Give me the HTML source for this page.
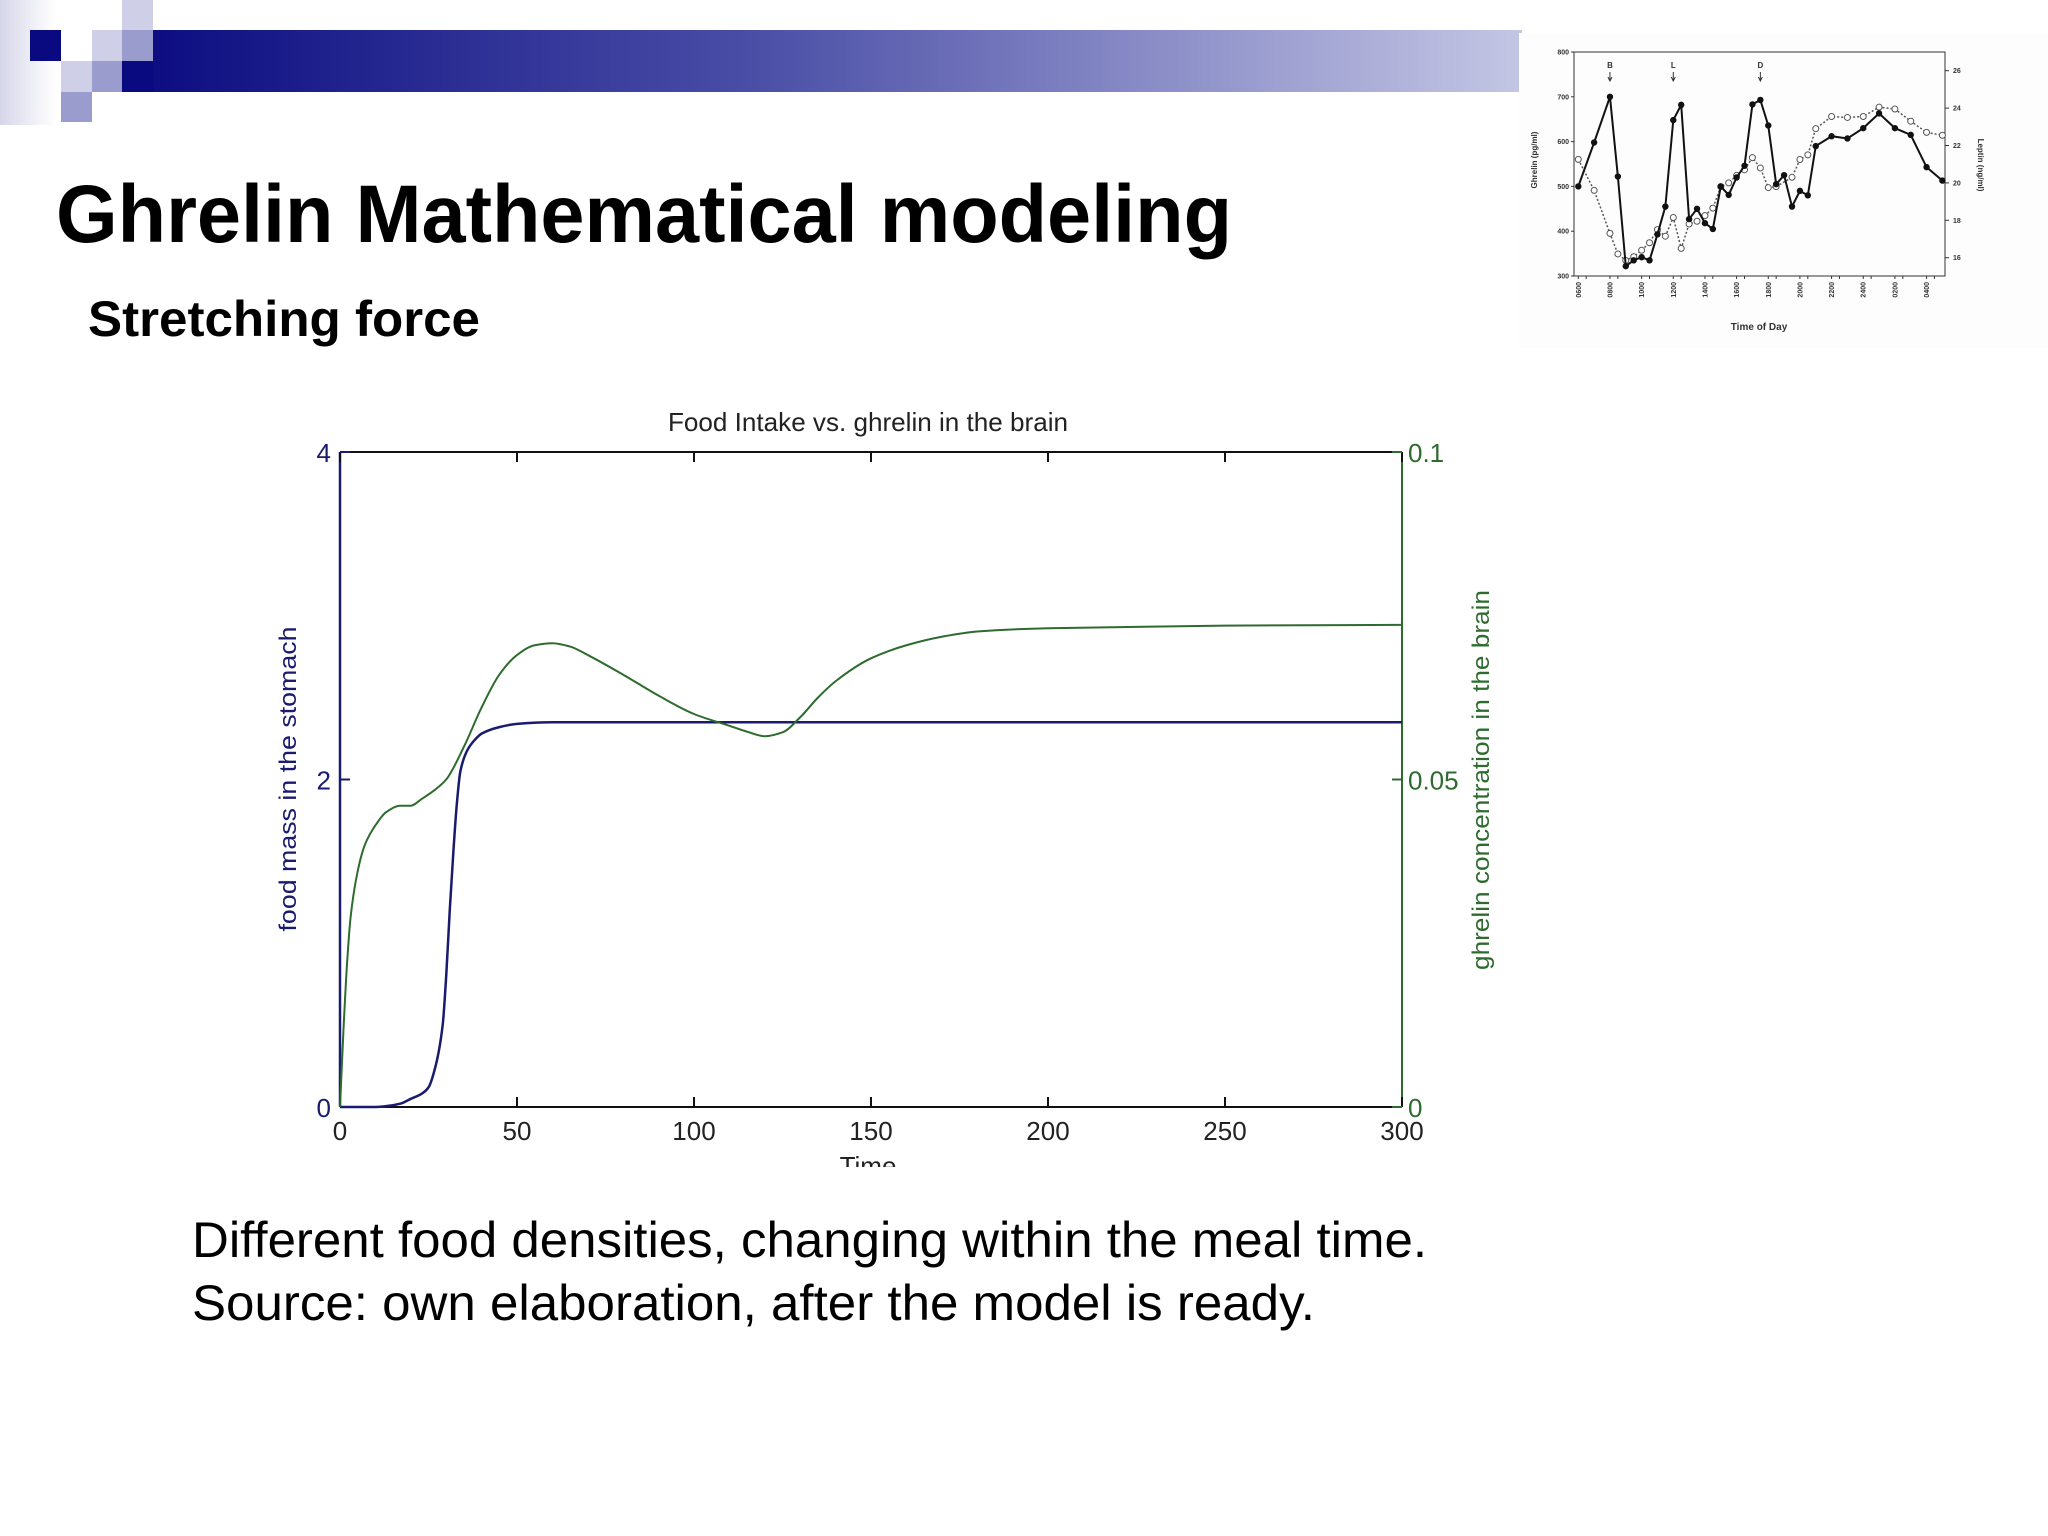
<!DOCTYPE html>
<html><head><meta charset="utf-8">
<style>
html,body{margin:0;padding:0;background:#fff;width:2048px;height:1536px;overflow:hidden}
svg{display:block}
text{font-family:"Liberation Sans",Arial,sans-serif}
</style></head>
<body>
<svg id="page" width="2048" height="1536" viewBox="0 0 2048 1536" xmlns="http://www.w3.org/2000/svg">
<defs>
<linearGradient id="barg" x1="0" x2="1" y1="0" y2="0">
<stop offset="0" stop-color="#0a0a80"/><stop offset="0.45" stop-color="#4a4ea6"/><stop offset="1" stop-color="#c4c6e4"/>
</linearGradient>
<linearGradient id="leftg" x1="0" x2="1" y1="0" y2="0">
<stop offset="0" stop-color="#d6d6ea"/><stop offset="1" stop-color="#ffffff"/>
</linearGradient>
</defs>
<g>
<rect x="0" y="0" width="55" height="125" fill="url(#leftg)"/>
<rect x="122" y="30" width="1400" height="62" fill="url(#barg)"/>
<rect x="30" y="30" width="31" height="31" fill="#0a0a80"/>
<rect x="122" y="0" width="31" height="30" fill="#cfd0e8"/>
<rect x="92" y="30" width="30" height="31" fill="#cfd0e8"/>
<rect x="122" y="30" width="31" height="31" fill="#9a9cce"/>
<rect x="61" y="61" width="31" height="31" fill="#cfd0e8"/>
<rect x="92" y="61" width="30" height="31" fill="#9a9cce"/>
<rect x="122" y="61" width="31" height="31" fill="#0a0a80"/>
<rect x="61" y="92" width="31" height="30" fill="#9a9cce"/>
</g>
<text x="56" y="242" font-size="82" font-weight="bold" fill="#000" textLength="1176" lengthAdjust="spacingAndGlyphs">Ghrelin Mathematical modeling</text>
<text x="88" y="336" font-size="50" font-weight="bold" fill="#000" textLength="392" lengthAdjust="spacingAndGlyphs">Stretching force</text>
<text x="192" y="1257" font-size="50" fill="#000" textLength="1235" lengthAdjust="spacingAndGlyphs">Different food densities, changing within the meal time.</text>
<text x="192" y="1320" font-size="50" fill="#000" textLength="1123" lengthAdjust="spacingAndGlyphs">Source: own elaboration, after the model is ready.</text>

<g id="main-chart"></g>
<g id="inset-chart"></g>
</svg>
<script>
// ===== Main chart data =====
const timeTicks = [0,50,100,150,200,250,300];
const leftTicks = [0,2,4];
const rightTicks = [0,0.05,0.1];
const rightTickLabels = ["0","0.05","0.1"];
const foodT = [0,10,13,17,20,23,25,27,29,30,31,32,33,34,36,38,40,45,50,60,300];
const foodV = [0,0,0.005,0.02,0.05,0.08,0.12,0.25,0.5,0.8,1.2,1.55,1.85,2.05,2.18,2.24,2.28,2.32,2.34,2.35,2.35];
const ghrT = [0,1,2,3,5,7,10,13,17,20,23,27,30,35,40,45,50,55,60,65,70,80,90,100,110,115,120,125,130,135,140,150,160,170,180,200,250,300];
const ghrV = [0,0.012,0.022,0.029,0.036,0.040,0.043,0.045,0.046,0.046,0.047,0.0485,0.050,0.055,0.061,0.066,0.069,0.0705,0.0708,0.0703,0.069,0.066,0.0628,0.060,0.0582,0.0573,0.0566,0.0572,0.0595,0.0625,0.065,0.0685,0.0705,0.0718,0.0726,0.0731,0.0735,0.0736];

const NS="http://www.w3.org/2000/svg";
function mk(tag,attrs,parent){const e=document.createElementNS(NS,tag);for(const k in attrs)e.setAttribute(k,attrs[k]);parent.appendChild(e);return e;}
// monotone cubic (Fritsch-Carlson) path
function smoothPath(pts){
  const n=pts.length, dx=[], m=[], t=[];
  for(let i=0;i<n-1;i++){dx[i]=pts[i+1][0]-pts[i][0];m[i]=(pts[i+1][1]-pts[i][1])/dx[i];}
  t[0]=m[0];t[n-1]=m[n-2];
  for(let i=1;i<n-1;i++){
    if(m[i-1]*m[i]<=0)t[i]=0;
    else{const w1=2*dx[i]+dx[i-1],w2=dx[i]+2*dx[i-1];t[i]=(w1+w2)/(w1/m[i-1]+w2/m[i]);}
  }
  let d="M"+pts[0][0].toFixed(2)+","+pts[0][1].toFixed(2);
  for(let i=0;i<n-1;i++){
    const h=dx[i]/3;
    d+=" C"+(pts[i][0]+h).toFixed(2)+","+(pts[i][1]+t[i]*h).toFixed(2)+" "+(pts[i+1][0]-h).toFixed(2)+","+(pts[i+1][1]-t[i+1]*h).toFixed(2)+" "+pts[i+1][0].toFixed(2)+","+pts[i+1][1].toFixed(2);
  }
  return d;
}
(function(){
  const g=document.getElementById('main-chart');
  const L=340,R=1402,T=452,B=1107;
  const xS=t=>L+(t-0)/300*(R-L);
  const yL=v=>B-v/4*(B-T);
  const yR=v=>B-v/0.1*(B-T);
  const blue="#1a1a6e", green="#2e6b2e";
  const tt=mk('text',{x:868,y:431,'font-size':26,'text-anchor':'middle',fill:'#222',textLength:400,lengthAdjust:'spacingAndGlyphs'},g);
  tt.textContent="Food Intake vs. ghrelin in the brain";
  
  
  const ax=mk('path',{d:`M${L},${T} H${R} M${L},${B} H${R} M${L},${T} V${B}`,stroke:'#111',fill:'none','stroke-width':2},g);
  
  
  const la=mk('line',{x1:L,y1:T,x2:L,y2:B,stroke:blue,'stroke-width':2.5},g);
  
  
  const ra=mk('line',{x1:R,y1:T,x2:R,y2:B,stroke:green,'stroke-width':2},g);
  
  
  timeTicks.forEach(t=>{
    const x=xS(t);
    mk('line',{x1:x,y1:B,x2:x,y2:B-10,stroke:'#111','stroke-width':2},g);
    mk('line',{x1:x,y1:T,x2:x,y2:T+10,stroke:'#111','stroke-width':2},g);
    const lb=mk('text',{x:x,y:1140,'font-size':26,'text-anchor':'middle',fill:'#222'},g);
    lb.textContent=String(t);
    
    
  });
  leftTicks.forEach(v=>{
    const y=yL(v);
    mk('line',{x1:L,y1:y,x2:L+10,y2:y,stroke:blue,'stroke-width':2},g);
    const lb=mk('text',{x:331,y:y+10,'font-size':26,'text-anchor':'end',fill:blue},g);
    lb.textContent=String(v);
    
    
  });
  rightTicks.forEach((v,i)=>{
    const y=yR(v);
    mk('line',{x1:R,y1:y,x2:R-10,y2:y,stroke:green,'stroke-width':2},g);
    const lb=mk('text',{x:1408,y:y+10,'font-size':26,fill:green},g);
    lb.textContent=rightTickLabels[i];
    
    
  });
  const fp=mk('path',{d:smoothPath(foodT.map((t,i)=>[xS(t),yL(foodV[i])])),stroke:blue,fill:'none','stroke-width':2.5},g);
  
  
  const gp=mk('path',{d:smoothPath(ghrT.map((t,i)=>[xS(t),yR(ghrV[i])])),stroke:green,fill:'none','stroke-width':2},g);
  
  
  const yl=mk('text',{x:0,y:0,'font-size':24,'text-anchor':'middle',fill:blue,transform:'translate(296,779) rotate(-90)',textLength:305,lengthAdjust:'spacingAndGlyphs'},g);
  yl.textContent="food mass in the stomach";
  
  
  const yr=mk('text',{x:0,y:0,'font-size':24,'text-anchor':'middle',fill:green,transform:'translate(1489,780) rotate(-90)',textLength:380,lengthAdjust:'spacingAndGlyphs'},g);
  yr.textContent="ghrelin concentration in the brain";
  
  
  const xt=mk('text',{x:868,y:1175,'font-size':26,'text-anchor':'middle',fill:'#222'},g);
  xt.textContent="Time";
  
  
  mk('rect',{x:820,y:1167,width:100,height:20,fill:'#fff'},g);
})();

// ===== Inset chart data =====
const insetHourTicks = [0,2,4,6,8,10,12,14,16,18,20,22];
const insetHourLabels = ["0600","0800","1000","1200","1400","1600","1800","2000","2200","2400","0200","0400"];
const ghrelinTicks = [300,400,500,600,700,800];
const leptinTicks = [16,18,20,22,24,26];
const ghrelinH = [0,1,2,2.5,3,3.5,4,4.5,5,5.5,6,6.5,7,7.5,8,8.5,9,9.5,10,10.5,11,11.5,12,12.5,13,13.5,14,14.5,15,16,17,18,19,20,21,22,23];
const ghrelinV = [500,598,700,522,322,335,342,335,393,455,648,682,427,450,418,405,500,481,520,546,683,693,636,505,525,455,490,480,590,612,607,630,663,630,615,543,513];
const leptinH = [0,1,2,2.5,3,3.5,4,4.5,5,5.5,6,6.5,7,7.5,8,8.5,9,9.5,10,10.5,11,11.5,12,12.5,13.5,14,14.5,15,16,17,18,19,20,21,22,23];
const leptinV = [21.26,19.6,17.3,16.2,15.85,16.05,16.4,16.8,17.5,17.15,18.15,16.5,17.8,17.95,18.25,18.65,19.8,20,20.4,20.7,21.35,20.8,19.75,19.8,20.3,21.25,21.5,22.9,23.55,23.5,23.55,24.05,23.95,23.3,22.7,22.55];
const mealLabels = ["B","L","D"];
const mealHours = [2,6,11.5];
(function(){
  const g=document.getElementById('inset-chart');
  mk('rect',{x:1519,y:33,width:529,height:315,fill:'#fdfdfd'},g);
  const L=1574,R=1945,T=52,B=276;
  const xS=h=>1578.3+h*15.83;
  const yG=v=>B-(v-300)/500*(B-T);
  const yLp=v=>257.7-(v-16)/10*(257.7-70.7);
  mk('path',{d:`M${L},${T} H${R} V${B} H${L} Z`,stroke:'#333',fill:'none','stroke-width':1},g);
  insetHourTicks.forEach((h,i)=>{
    const x=xS(h);
    mk('line',{x1:x,y1:B,x2:x,y2:B+3,stroke:'#333','stroke-width':1},g);
    mk('line',{x1:x+7.9,y1:B,x2:x+7.9,y2:B+3,stroke:'#333','stroke-width':1},g);
    const lb=mk('text',{x:0,y:0,'font-size':7,'font-weight':'bold','text-anchor':'end',fill:'#333',transform:`translate(${x+2.5},${B+6}) rotate(-90)`},g);
    lb.textContent=insetHourLabels[i];
    
    
  });
  ghrelinTicks.forEach(v=>{
    const y=yG(v);
    mk('line',{x1:L-3,y1:y,x2:L,y2:y,stroke:'#333'},g);
    const lb=mk('text',{x:L-5,y:y+2.5,'font-size':7,'font-weight':'bold','text-anchor':'end',fill:'#333'},g);
    lb.textContent=String(v);
    
    
  });
  leptinTicks.forEach(v=>{
    const y=yLp(v);
    mk('line',{x1:R,y1:y,x2:R+4,y2:y,stroke:'#333'},g);
    const lb=mk('text',{x:R+8,y:y+2.5,'font-size':7,'font-weight':'bold',fill:'#333'},g);
    lb.textContent=String(v);
    
    
  });
  const lp=mk('polyline',{points:leptinH.map((h,i)=>xS(h)+","+yLp(leptinV[i])).join(" "),stroke:'#555',fill:'none','stroke-width':1.5,'stroke-dasharray':'2,2'},g);
  
  
  leptinH.forEach((h,i)=>{
    const c=mk('circle',{cx:xS(h),cy:yLp(leptinV[i]),r:3,fill:'#fff',stroke:'#555','stroke-width':1},g);
    
    
  });
  const gl=mk('polyline',{points:ghrelinH.map((h,i)=>xS(h)+","+yG(ghrelinV[i])).join(" "),stroke:'#111',fill:'none','stroke-width':2},g);
  
  
  ghrelinH.forEach((h,i)=>{
    const c=mk('circle',{cx:xS(h),cy:yG(ghrelinV[i]),r:3.2,fill:'#111'},g);
    
    
  });
  mealHours.forEach((h,i)=>{
    const x=xS(h);
    const t=mk('text',{x:x,y:68,'font-size':8,'font-weight':'bold','text-anchor':'middle',fill:'#333'},g);
    t.textContent=mealLabels[i];
    
    
    mk('path',{d:`M${x},72 V80 M${x-2},77 L${x},81 L${x+2},77`,stroke:'#333',fill:'none','stroke-width':1},g);
  });
  const a=mk('text',{x:0,y:0,'font-size':8,'font-weight':'bold','text-anchor':'middle',fill:'#333',transform:'translate(1537,160) rotate(-90)'},g);
  a.textContent="Ghrelin (pg/ml)";
  
  
  const b=mk('text',{x:0,y:0,'font-size':8,'font-weight':'bold','text-anchor':'middle',fill:'#333',transform:'translate(1978,165) rotate(90)'},g);
  b.textContent="Leptin (ng/ml)";
  
  
  const c=mk('text',{x:1759,y:330,'font-size':10,'font-weight':'bold','text-anchor':'middle',fill:'#333'},g);
  c.textContent="Time of Day";
  
  
})();
</script>
</body></html>
